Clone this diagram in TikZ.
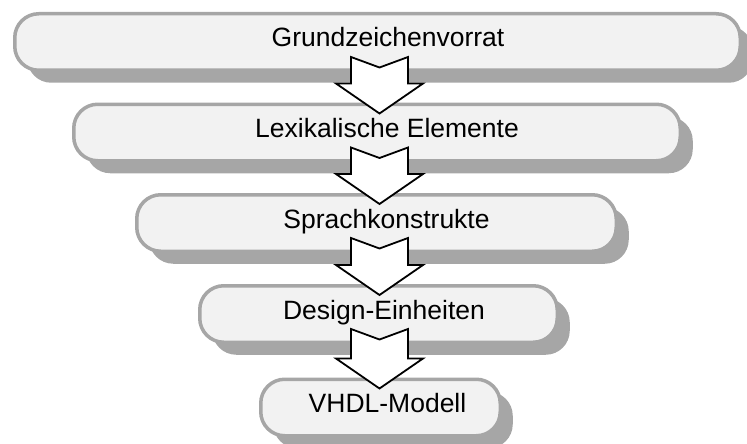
\documentclass[tikz,border=0pt]{standalone}
\usepackage{fontspec}
\setmainfont{Liberation Sans}
\usetikzlibrary{shadows}
\definecolor{rand}{HTML}{A6A6A6}
\definecolor{fuellung}{HTML}{F2F2F2}

\begin{document}
\begin{tikzpicture}[x=1pt,y=-1pt,
		stufe/.style={draw=rand,line width=3.5pt,fill=fuellung,rounded corners=24pt,
			minimum height=56.5pt,inner sep=0pt,
			drop shadow={shadow xshift=12.5pt,shadow yshift=-12.5pt,fill=rand,opacity=1}},
		titel/.style={anchor=base,inner sep=0pt,font=\fontsize{26.5}{32}\selectfont},
		pfeil/.style={draw=black,line width=1.8pt,fill=white,line join=miter,
			to path={([xshift=-28.5pt,yshift=15pt]\tikztostart) -- ([yshift=4.5pt]\tikztostart)
				-- ([xshift=28.5pt,yshift=15pt]\tikztostart) -- ([xshift=28.5pt,yshift=19pt]\tikztotarget)
				-- ([xshift=43.5pt,yshift=19pt]\tikztotarget) -- ([yshift=-11pt]\tikztotarget)
				-- ([xshift=-43.5pt,yshift=19pt]\tikztotarget) -- ([xshift=-28.5pt,yshift=19pt]\tikztotarget) -- cycle}}]
		\useasboundingbox (0,0) rectangle (747,444);
		\node[stufe,minimum width=725.5pt](grund) at (377.5,42) {};
		\node[stufe,minimum width=606.5pt](lex) at (377,132.5) {};
		\node[stufe,minimum width=479.5pt](sprach) at (376.5,223) {};
		\node[stufe,minimum width=357.5pt](design) at (378.5,314) {};
		\node[stufe,minimum width=239.5pt](modell) at (380.5,407.5) {};
		\coordinate (achse) at (379.5,0);
		\draw[pfeil] (grund.south -| achse) to (lex.north -| achse);
		\draw[pfeil] (lex.south -| achse) to (sprach.north -| achse);
		\draw[pfeil] (sprach.south -| achse) to (design.north -| achse);
		\draw[pfeil] (design.south -| achse) to (modell.north -| achse);
		\node[titel](tgrund) at ([xshift=10.5pt,yshift=-5pt]grund.center) {Grundzeichenvorrat};
		\node[titel](tlex) at ([xshift=10pt,yshift=-5pt]lex.center) {Lexikalische Elemente};
		\node[titel](tsprach) at ([xshift=10pt,yshift=-5pt]sprach.center) {Sprachkonstrukte};
		\node[titel](tdesign) at ([xshift=5.5pt,yshift=-5pt]design.center) {Design-Einheiten};
		\node[titel](tmodell) at ([xshift=7pt,yshift=-5pt]modell.center) {VHDL-Modell};
	\end{tikzpicture}
\end{document}
